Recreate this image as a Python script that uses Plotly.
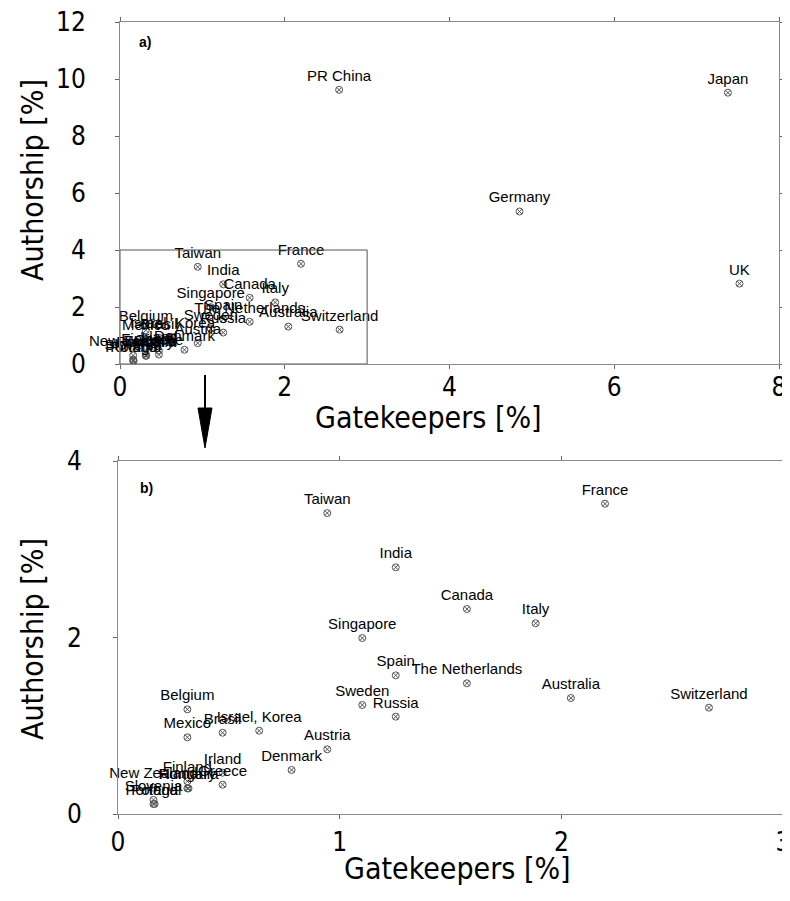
import plotly.graph_objects as go

# Page body adds an 8px margin around the figure; size the figure so the page
# does not overflow the 790x901 window, and shift all placements by that margin.
OFF = 8
W, H = 790 - OFF, 901 - 2 * OFF

countries = ["PR China", "Japan", "Germany", "UK", "France", "Taiwan", "India",
             "Canada", "Italy", "Singapore", "Spain", "The Netherlands", "Australia",
             "Switzerland", "Sweden", "Russia", "Belgium", "Mexico", "Brasil",
             "Israel, Korea", "Austria", "Denmark", "Irland", "Greece", "Finland",
             "Hungary", "Romania", "New Zealand", "Slovenia", "Portugal", "Poland"]
gatekeepers = [2.66, 7.38, 4.85, 7.52, 2.197, 0.944, 1.253,
               1.574, 1.884, 1.102, 1.253, 1.574, 2.043,
               2.666, 1.102, 1.253, 0.313, 0.313, 0.472,
               0.637, 0.944, 0.783, 0.472, 0.472, 0.313,
               0.313, 0.318, 0.16, 0.16, 0.16, 0.165]
authorship = [9.62, 9.52, 5.35, 2.82, 3.516, 3.41, 2.795,
              2.323, 2.161, 1.994, 1.571, 1.481, 1.314,
              1.205, 1.235, 1.103, 1.186, 0.869, 0.921,
              0.944, 0.733, 0.499, 0.468, 0.332, 0.37,
              0.29, 0.29, 0.30, 0.16, 0.113, 0.113]

xticks_a = [0, 2, 4, 6, 8]
yticks_a = [0, 2, 4, 6, 8, 10, 12]
xticks_b = [0, 1, 2, 3]
yticks_b = [0, 2, 4]


def px_x(p):
    return (p - OFF) / W


def px_y(p):
    return 1 - (p - OFF) / H


marker = dict(symbol="circle-x-open", size=7, color="#555555", line=dict(width=1, color="#555555"))
label_font = dict(family="Liberation Sans, Arial, sans-serif", size=15, color="black")

fig = go.Figure()
fig.add_trace(go.Scatter(x=gatekeepers, y=authorship, text=countries, mode="markers+text",
                         textposition="top center", marker=marker, textfont=label_font,
                         xaxis="x", yaxis="y", showlegend=False, cliponaxis=False))

bx = [g for g, a in zip(gatekeepers, authorship) if g <= 3 and a <= 4]
by = [a for g, a in zip(gatekeepers, authorship) if g <= 3 and a <= 4]
bt = [c for c, g, a in zip(countries, gatekeepers, authorship) if g <= 3 and a <= 4]
fig.add_trace(go.Scatter(x=bx, y=by, text=bt, mode="markers+text",
                         textposition="top center", marker=marker, textfont=label_font,
                         xaxis="x2", yaxis="y2", showlegend=False, cliponaxis=False))

tick_font = dict(family="Liberation Sans Narrow, Arial Narrow, DejaVu Sans Condensed, sans-serif",
                 size=26, color="black")
title_font = dict(family="Liberation Sans Narrow, Arial Narrow, DejaVu Sans Condensed, sans-serif",
                  size=30, color="black")

ax_common = dict(showgrid=False, zeroline=False, showline=True, linecolor="#8a8a8a",
                 linewidth=1, mirror="ticks", ticks="outside", ticklen=4, tickcolor="#666666",
                 tickfont=tick_font, automargin=False, ticklabeloverflow="allow")

fig.update_layout(
    width=W, height=H, margin=dict(l=0, r=0, t=0, b=0, autoexpand=False),
    paper_bgcolor="white", plot_bgcolor="white",
    xaxis=dict(domain=[px_x(120), px_x(779)], range=[0, 8], tickvals=xticks_a,
               anchor="y", ticklabelstandoff=-4, **ax_common),
    yaxis=dict(domain=[px_y(364), px_y(22)], range=[0, 12], tickvals=yticks_a,
               anchor="x", ticklabelstandoff=24, **ax_common),
    xaxis2=dict(domain=[px_x(118), px_x(783)], range=[0, 3], tickvals=xticks_b,
                anchor="y2", ticklabelstandoff=1, **ax_common),
    yaxis2=dict(domain=[px_y(814), px_y(461)], range=[0, 4], tickvals=yticks_b,
                anchor="x2", ticklabelstandoff=26, **ax_common),
)

annotations = [
    dict(text="Gatekeepers [%]", x=px_x(428), y=px_y(418), font=title_font),
    dict(text="Gatekeepers [%]", x=px_x(457), y=px_y(868), font=title_font),
    dict(text="Authorship [%]", x=px_x(32), y=px_y(180), font=title_font, textangle=-90),
    dict(text="Authorship [%]", x=px_x(32), y=px_y(639), font=title_font, textangle=-90),
    dict(text="<b>a)</b>", x=px_x(145), y=px_y(42), font=dict(family="Liberation Sans, Arial", size=14, color="black")),
    dict(text="<b>b)</b>", x=px_x(146), y=px_y(488), font=dict(family="Liberation Sans, Arial", size=14, color="black")),
]
for a in annotations:
    a.update(xref="paper", yref="paper", showarrow=False, xanchor="center", yanchor="middle")
    fig.add_annotation(**a)

# zoom rectangle in panel a
fig.add_shape(type="rect", xref="x", yref="y", x0=0, y0=0, x1=3, y1=4,
              line=dict(color="#555555", width=1))

# arrow from panel a to panel b
fig.add_shape(type="line", xref="paper", yref="paper", x0=px_x(205), x1=px_x(205),
              y0=px_y(375), y1=px_y(415), line=dict(color="black", width=2))
fig.add_shape(type="path", xref="paper", yref="paper",
              path=f"M {px_x(198)} {px_y(408)} L {px_x(212)} {px_y(408)} L {px_x(205)} {px_y(448)} Z",
              fillcolor="black", line=dict(color="black", width=1))

fig.write_html("out.html")
